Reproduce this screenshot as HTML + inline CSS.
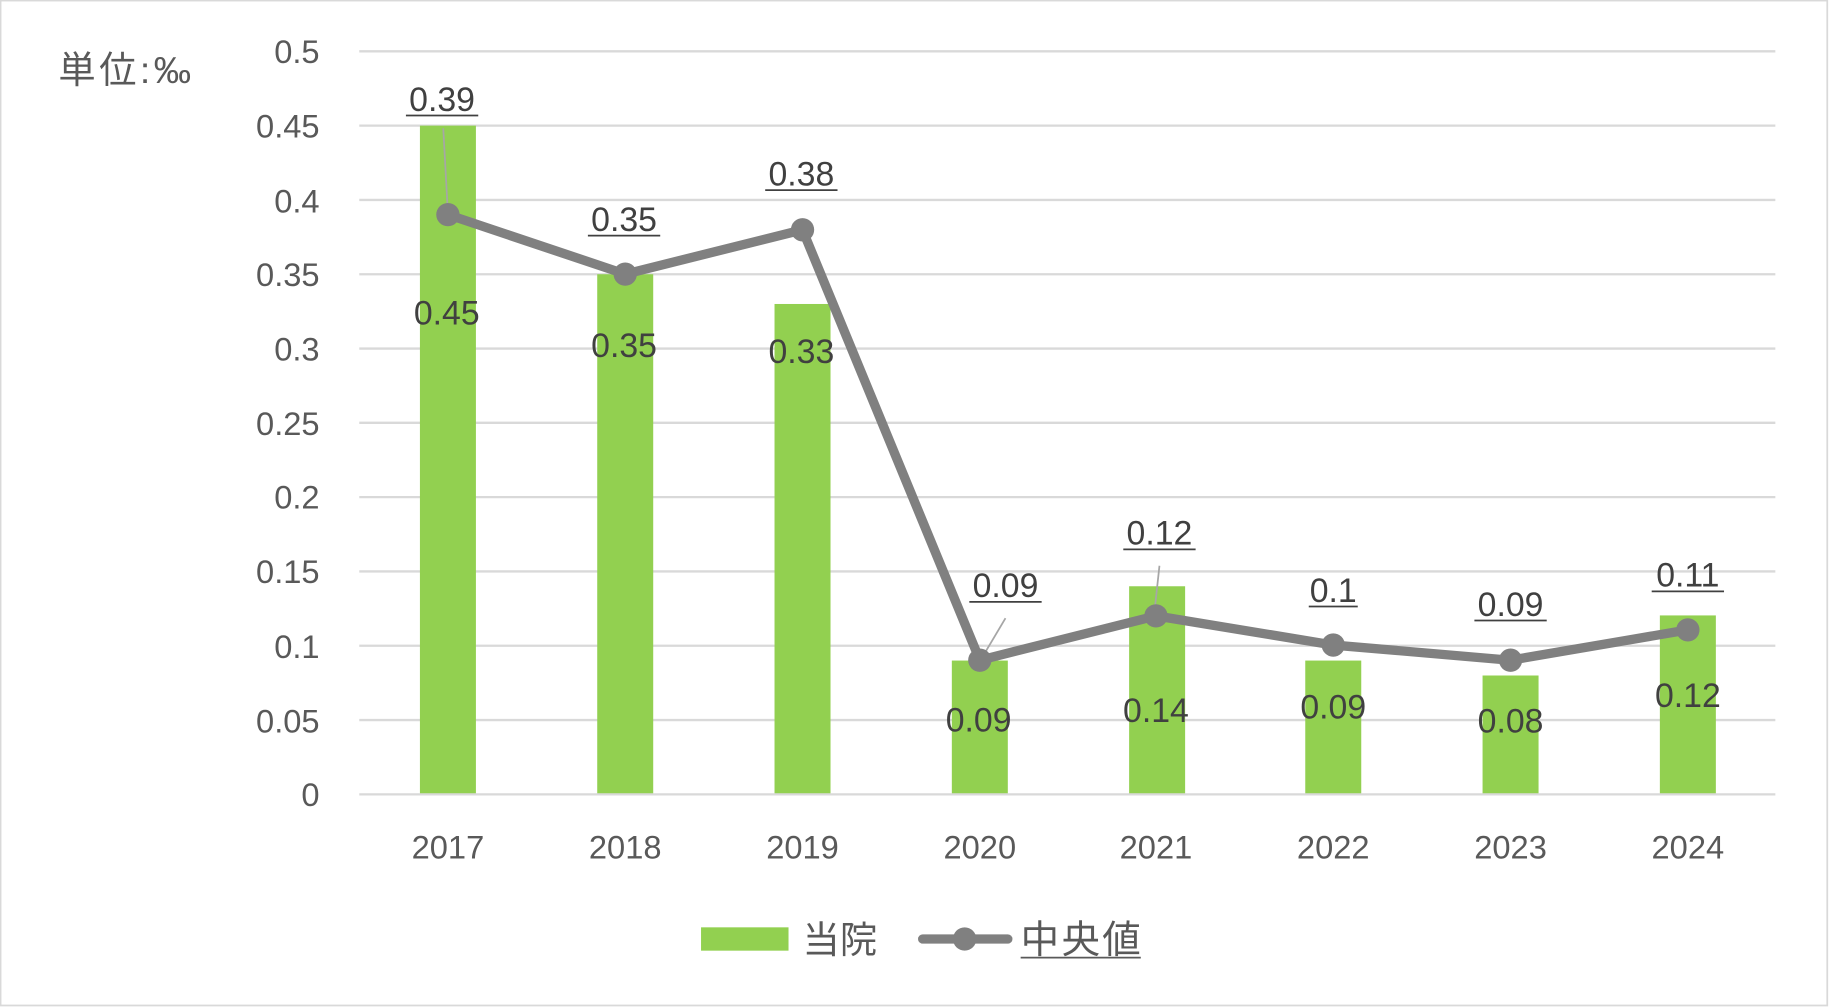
<!DOCTYPE html>
<html><head><meta charset="utf-8"><style>
html,body{margin:0;padding:0;background:#fff}
svg{display:block}
text{font-family:"Liberation Sans","Noto Sans CJK JP",sans-serif}
</style></head><body>
<svg width="1829" height="1007" viewBox="0 0 1568 863.3" xmlns="http://www.w3.org/2000/svg">
<rect x="0.5" y="0.5" width="1566" height="861.5" fill="#fff" stroke="#d9d9d9" stroke-width="1.5"/>
<g stroke="#d9d9d9" stroke-width="2">
<line x1="308" x2="1522" y1="44" y2="44"/><line x1="308" x2="1522" y1="107.7" y2="107.7"/>
<line x1="308" x2="1522" y1="171.4" y2="171.4"/><line x1="308" x2="1522" y1="235.1" y2="235.1"/>
<line x1="308" x2="1522" y1="298.8" y2="298.8"/><line x1="308" x2="1522" y1="362.5" y2="362.5"/>
<line x1="308" x2="1522" y1="426.2" y2="426.2"/><line x1="308" x2="1522" y1="489.9" y2="489.9"/>
<line x1="308" x2="1522" y1="553.6" y2="553.6"/><line x1="308" x2="1522" y1="617.3" y2="617.3"/>
</g>
<g fill="#595959" font-size="28" text-anchor="end">
<text x="274" y="54">0.5</text><text x="274" y="118">0.45</text><text x="274" y="182">0.4</text>
<text x="274" y="245">0.35</text><text x="274" y="309">0.3</text><text x="274" y="373">0.25</text>
<text x="274" y="436">0.2</text><text x="274" y="500">0.15</text><text x="274" y="564">0.1</text>
<text x="274" y="628">0.05</text><text x="274" y="691">0</text>
</g>
<text x="50" y="71" fill="#595959" font-size="32" letter-spacing="3">単位:‰</text>
<g fill="#92d050">
<rect x="360" y="107.7" width="48" height="573.3"/>
<rect x="512" y="235.1" width="48" height="445.9"/>
<rect x="664" y="260.6" width="48" height="420.4"/>
<rect x="816" y="566.3" width="48" height="114.7"/>
<rect x="968" y="502.6" width="48" height="178.4"/>
<rect x="1119" y="566.3" width="48" height="114.7"/>
<rect x="1271" y="579.1" width="48" height="101.9"/>
<rect x="1423" y="527.6" width="48" height="153.4"/>
</g>
<line x1="308" x2="1522" y1="681" y2="681" stroke="#d9d9d9" stroke-width="2"/>
<g stroke="#a6a6a6" stroke-width="1.5">
<line x1="380" y1="110" x2="384" y2="183"/>
<line x1="862" y1="530" x2="840" y2="567"/>
<line x1="994" y1="485" x2="990" y2="522"/>
</g>
<polyline points="384,184 536,235 688,197 840,566 991,528 1143,553 1295,566 1447,540" fill="none" stroke="#808080" stroke-width="8" stroke-linejoin="round"/>
<g fill="#808080">
<circle cx="384" cy="184" r="10"/><circle cx="536" cy="235" r="10"/><circle cx="688" cy="197" r="10"/>
<circle cx="840" cy="566" r="10"/><circle cx="991" cy="528" r="10"/><circle cx="1143" cy="553" r="10"/>
<circle cx="1295" cy="566" r="10"/><circle cx="1447" cy="540" r="10"/>
</g>
<g fill="#404040" font-size="29" text-anchor="middle">
<text x="379" y="95">0.39</text><text x="535" y="198">0.35</text><text x="687" y="159">0.38</text>
<text x="862" y="512">0.09</text><text x="994" y="467">0.12</text><text x="1143" y="516">0.1</text>
<text x="1295" y="528">0.09</text><text x="1447" y="503">0.11</text>
</g>
<g stroke="#404040" stroke-width="1.5">
<line x1="348" x2="410" y1="99" y2="99"/><line x1="504" x2="566" y1="202" y2="202"/>
<line x1="656" x2="718" y1="163" y2="163"/><line x1="831" x2="893" y1="516" y2="516"/>
<line x1="963" x2="1025" y1="471" y2="471"/><line x1="1122" x2="1164" y1="520" y2="520"/>
<line x1="1264" x2="1326" y1="532" y2="532"/><line x1="1416" x2="1478" y1="507" y2="507"/>
</g>
<g fill="#404040" font-size="29" text-anchor="middle">
<text x="383" y="278">0.45</text><text x="535" y="306">0.35</text><text x="687" y="311">0.33</text>
<text x="839" y="627">0.09</text><text x="991" y="619">0.14</text><text x="1143" y="616">0.09</text>
<text x="1295" y="628">0.08</text><text x="1447" y="606">0.12</text>
</g>
<g fill="#595959" font-size="28" text-anchor="middle">
<text x="384" y="736">2017</text><text x="536" y="736">2018</text><text x="688" y="736">2019</text>
<text x="840" y="736">2020</text><text x="991" y="736">2021</text><text x="1143" y="736">2022</text>
<text x="1295" y="736">2023</text><text x="1447" y="736">2024</text>
</g>
<rect x="601" y="795" width="75" height="20" fill="#92d050"/>
<text x="688" y="817" fill="#595959" font-size="32">当院</text>
<line x1="791" x2="864" y1="805" y2="805" stroke="#808080" stroke-width="8" stroke-linecap="round"/>
<circle cx="827" cy="805" r="10" fill="#808080"/>
<text x="875" y="817" fill="#595959" font-size="33" textLength="103">中央値</text>
<line x1="875" x2="978" y1="821" y2="821" stroke="#595959" stroke-width="1.5"/>
</svg>
</body></html>
